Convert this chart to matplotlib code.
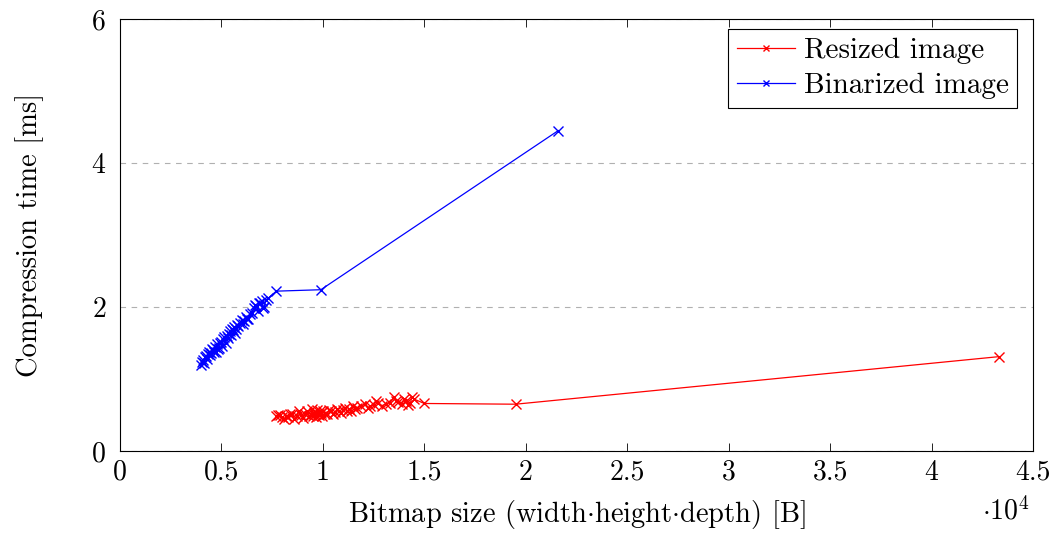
import matplotlib
matplotlib.use('Agg')
import matplotlib.pyplot as plt
import numpy as np

plt.rcParams['font.family'] = ['cmr10']
plt.rcParams['mathtext.fontset'] = 'cm'
plt.rcParams['axes.formatter.use_mathtext'] = True

# bitmap size [B] vs compression time [ms]
resized_x = [7700, 7800, 7900, 8000, 8100, 8200, 8300, 8400, 8500, 8600, 8700,
             8800, 8900, 9000, 9100, 9200, 9300, 9400, 9450, 9500, 9550, 9600,
             9650, 9700, 9750, 9800, 9850, 9900, 9950, 10000, 10100, 10200,
             10300, 10400, 10500, 10600, 10700, 10800, 10900, 11000, 11100,
             11200, 11300, 11400, 11500, 11600, 11700, 11900, 12100, 12200,
             12300, 12500, 12600, 12700, 12900, 13100, 13300, 13500, 13600,
             13700, 13900, 14000, 14100, 14200, 14300, 14400, 14500, 15000,
             19500, 43300]
resized_y = [0.48, 0.50, 0.50, 0.47, 0.45, 0.49, 0.47, 0.52, 0.52, 0.44, 0.48,
             0.55, 0.50, 0.46, 0.51, 0.55, 0.49, 0.50, 0.58, 0.48, 0.53, 0.52,
             0.47, 0.57, 0.51, 0.50, 0.55, 0.53, 0.49, 0.55, 0.51, 0.52, 0.57,
             0.56, 0.52, 0.54, 0.58, 0.55, 0.53, 0.57, 0.60, 0.55, 0.58, 0.56,
             0.62, 0.59, 0.60, 0.63, 0.65, 0.60, 0.62, 0.64, 0.69, 0.66, 0.63,
             0.65, 0.67, 0.75, 0.70, 0.68, 0.65, 0.72, 0.70, 0.64, 0.66, 0.75,
             0.72, 0.66, 0.65, 1.31]

binarized_x = [4000, 4050, 4100, 4150, 4200, 4250, 4300, 4350, 4400, 4450, 4500,
               4550, 4600, 4650, 4700, 4750, 4800, 4850, 4900, 4950, 5000, 5050,
               5100, 5150, 5200, 5250, 5300, 5350, 5400, 5450, 5500, 5550, 5600,
               5650, 5700, 5750, 5800, 5900, 6000, 6050, 6100, 6200, 6250, 6300,
               6400, 6500, 6600, 6650, 6700, 6800, 6850, 6900, 7000, 7050, 7100,
               7200, 7300, 7700, 9900, 21600]
binarized_y = [1.20, 1.24, 1.27, 1.22, 1.30, 1.32, 1.28, 1.35, 1.38, 1.33, 1.36,
               1.42, 1.40, 1.37, 1.45, 1.38, 1.48, 1.41, 1.43, 1.50, 1.52, 1.46,
               1.55, 1.58, 1.50, 1.60, 1.57, 1.63, 1.66, 1.61, 1.70, 1.68, 1.72,
               1.64, 1.69, 1.75, 1.73, 1.78, 1.82, 1.77, 1.80, 1.86, 1.83, 1.84,
               1.90, 1.92, 1.98, 2.03, 2.02, 1.95, 2.06, 2.05, 2.08, 1.99, 2.00,
               2.10, 2.12, 2.22, 2.24, 4.45]

fig = plt.figure(figsize=(10.56, 5.33), dpi=100)
ax = fig.add_axes([120 / 1056, 1 - 451 / 533, 913 / 1056, 432 / 533])

ax.plot(np.array(resized_x) / 1e4, resized_y, color='red', marker='x',
        markersize=7, linewidth=0.9, label='Resized image')
ax.plot(np.array(binarized_x) / 1e4, binarized_y, color='blue', marker='x',
        markersize=7, linewidth=0.9, label='Binarized image')

ax.set_xlim(0, 4.5)
ax.set_ylim(0, 6)
ax.set_xticks(np.arange(0, 4.51, 0.5))
ax.set_xticklabels(['0', '0.5', '1', '1.5', '2', '2.5', '3', '3.5', '4', '4.5'])
ax.set_yticks([0, 2, 4, 6])
ax.grid(axis='y', linestyle=(0, (5, 5)), color='#b0b0b0', linewidth=0.8)
ax.tick_params(axis='x', direction='in', top=True, labelsize=20, length=6,
               width=0.6, pad=6)
ax.tick_params(axis='y', direction='in', length=0, labelsize=20, pad=10)
for s in ax.spines.values():
    s.set_linewidth(0.8)

ax.set_xlabel(r'Bitmap size (width$\cdot$height$\cdot$depth) [B]', fontsize=20.5,
              labelpad=9)
ax.set_ylabel('Compression time [ms]', fontsize=20.5, labelpad=34)
ax.text(0.97, -0.14, r'$\cdot 10^4$', transform=ax.transAxes, fontsize=20,
        ha='center', va='center')

leg = ax.legend(loc='upper right', fontsize=21, fancybox=False, framealpha=1,
                edgecolor='black', handlelength=2.0, borderpad=0.3,
                labelspacing=0.3, handletextpad=0.3, borderaxespad=0,
                bbox_to_anchor=(0.983, 0.977), markerscale=0.7)
leg.get_frame().set_linewidth(0.8)

fig.savefig('out.png', dpi=100)
